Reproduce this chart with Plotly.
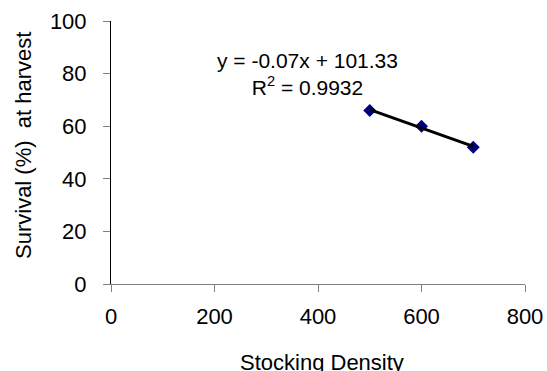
import numpy as np
import plotly.graph_objects as go

stocking_density = [500, 600, 700]
survival_pct = [66, 60, 52]
x_ticks = [0, 200, 400, 600, 800]
y_ticks = [0, 20, 40, 60, 80, 100]

slope, intercept = np.polyfit(stocking_density, survival_pct, 1)
pred = np.polyval([slope, intercept], stocking_density)
y_arr = np.array(survival_pct, dtype=float)
r2 = 1 - np.sum((y_arr - pred) ** 2) / np.sum((y_arr - y_arr.mean()) ** 2)

FONT = "Liberation Sans, Arial, sans-serif"

fig = go.Figure()
fig.add_trace(go.Scatter(
    x=stocking_density, y=survival_pct, mode="markers",
    marker=dict(symbol="diamond", size=10, color="#000080"),
    showlegend=False, hoverinfo="skip",
))
fig.add_trace(go.Scatter(
    x=[stocking_density[0], stocking_density[-1]],
    y=[np.polyval([slope, intercept], stocking_density[0]),
       np.polyval([slope, intercept], stocking_density[-1])],
    mode="lines", line=dict(color="black", width=3),
    showlegend=False, hoverinfo="skip",
))

eq = f"y = {slope:.2f}x + {intercept:.2f}<br>R<sup>2</sup> = {r2:.4f}"
fig.add_annotation(
    x=0.475, y=0.797, xref="paper", yref="paper",
    text=eq, showarrow=False, font=dict(family=FONT, size=21, color="black"),
    align="center", xanchor="center", yanchor="middle",
)
# axis titles as annotations for precise placement
fig.add_annotation(
    x=-0.2126, y=0.5285, xref="paper", yref="paper",
    text="Survival (%)\u00a0 at harvest", textangle=-90, showarrow=False,
    font=dict(family=FONT, size=22, color="black"),
    xanchor="center", yanchor="middle",
)
fig.add_annotation(
    x=0.5097, y=-0.2966, xref="paper", yref="paper",
    text="Stocking Density", showarrow=False,
    font=dict(family=FONT, size=22, color="black"),
    xanchor="center", yanchor="middle",
)

fig.update_layout(
    width=547, height=371,
    margin=dict(l=111, r=22, t=21, b=87),
    paper_bgcolor="white", plot_bgcolor="white",
    font=dict(family=FONT, size=22, color="black"),
    xaxis=dict(
        range=[0, 800], tickvals=x_ticks, showgrid=False, zeroline=False,
        showline=True, linecolor="#808080", linewidth=1,
        ticks="outside", ticklen=7, tickcolor="#808080",
        ticklabelstandoff=6, automargin=False,
    ),
    yaxis=dict(
        range=[0, 100], tickvals=y_ticks, showgrid=False, zeroline=False,
        showline=True, linecolor="black", linewidth=1,
        ticks="outside", ticklen=7, tickcolor="#808080",
        ticklabelstandoff=12, automargin=False,
    ),
)

fig.write_html(
    "out.html",
    config={"displayModeBar": False},
    post_script="document.body.style.margin='0';document.body.style.overflow='hidden';",
)
